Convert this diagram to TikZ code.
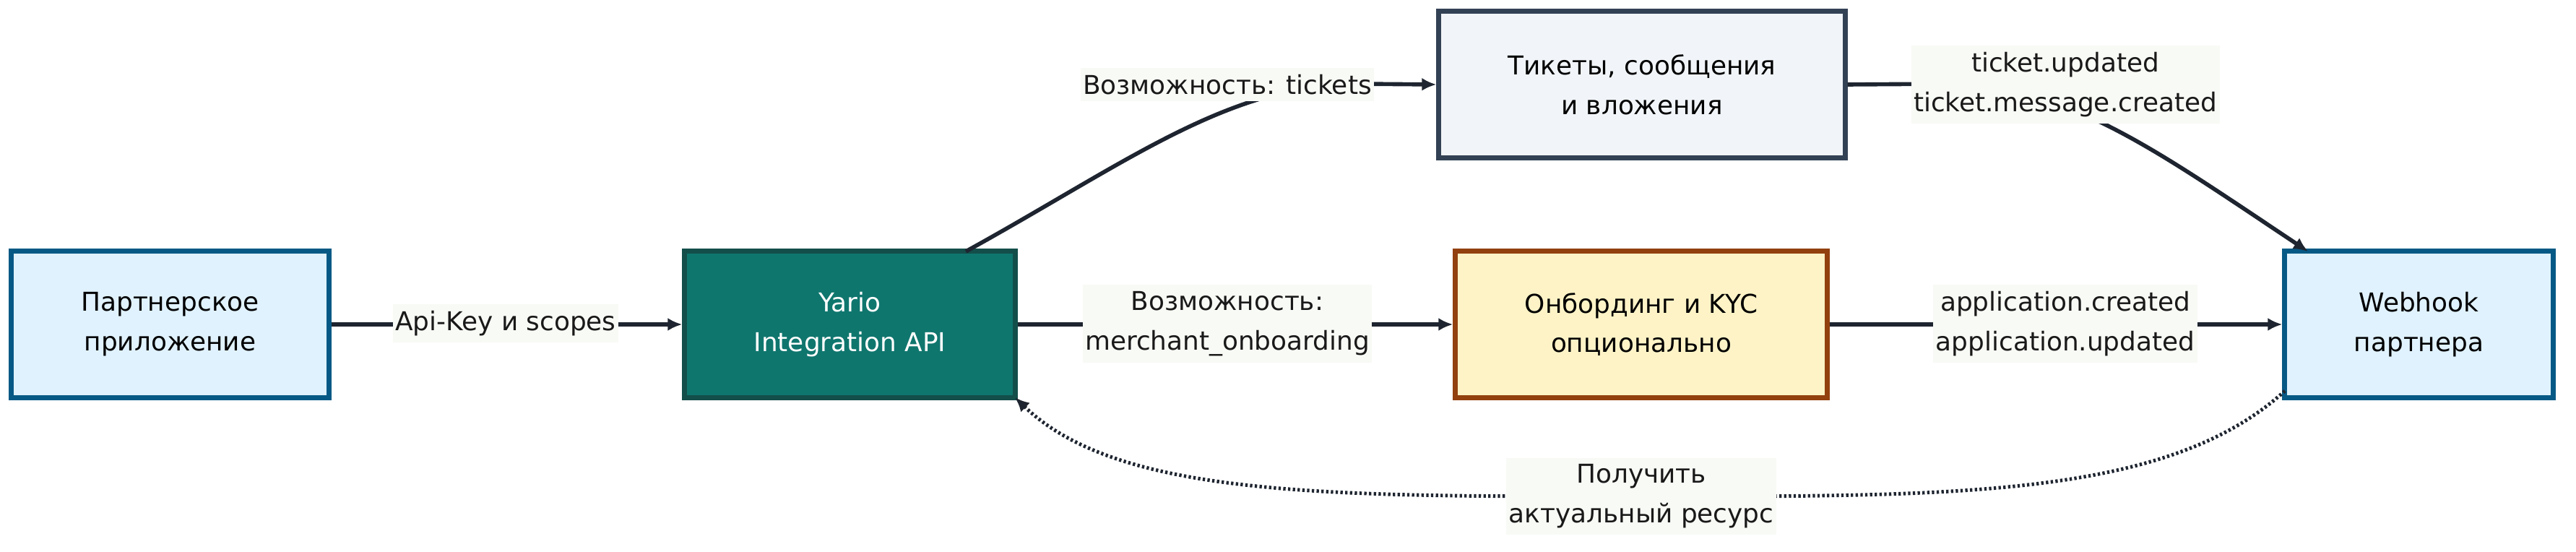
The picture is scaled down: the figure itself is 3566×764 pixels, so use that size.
\documentclass[tikz,border=0pt]{standalone}
\usepackage{fontspec}
\setmainfont{DejaVu Sans}
\usetikzlibrary{arrows.meta}
\definecolor{lineC}{HTML}{1E2530}
\definecolor{lblbg}{HTML}{F8FAF5}
\definecolor{skyF}{HTML}{E0F2FE}
\definecolor{skyD}{HTML}{075985}
\definecolor{tealF}{HTML}{0F766E}
\definecolor{tealD}{HTML}{134E4A}
\definecolor{slateF}{HTML}{F1F5F9}
\definecolor{slateD}{HTML}{334155}
\definecolor{amberF}{HTML}{FEF3C7}
\definecolor{amberD}{HTML}{92400E}
\tikzset{
  base/.style={draw, line width=2pt, rectangle, align=center, inner sep=0pt,
    minimum height=2.02cm, font=\fontsize{10.2}{15.6}\selectfont},
  partner/.style={base, fill=skyF, draw=skyD},
  api/.style={base, fill=tealF, draw=tealD, text=white},
  tick/.style={base, fill=slateF, draw=slateD},
  onb/.style={base, fill=amberF, draw=amberD},
  conn/.style={draw=lineC, line width=1.6pt, -{Latex[length=0.2cm,width=0.18cm]}},
  dotconn/.style={draw=lineC, line width=1.4pt, dash pattern=on 0.033cm off 0.033cm, -{Latex[length=0.2cm,width=0.18cm]}},
  lbl/.style={fill=lblbg, align=center, inner xsep=1pt, inner ysep=2.6pt, text=black!90,
    font=\fontsize{10.2}{15.6}\selectfont}
}
\begin{document}
\begin{tikzpicture}[x=0.01cm,y=-0.01cm]
\useasboundingbox (0,0) rectangle (3566,764);
\node[partner, minimum width=4.39cm] (p) at (235.5,449) {Партнерское\\приложение};
\node[api, minimum width=4.57cm] (y) at (1176.5,449) {Yario\\Integration API};
\node[tick, minimum width=5.62cm] (t) at (2273,117) {Тикеты, сообщения\\и вложения};
\node[onb, minimum width=5.14cm] (o) at (2272,449) {Онбординг и KYC\\опционально};
\node[partner, minimum width=3.71cm] (w) at (3348.5,449) {Webhook\\партнера};

\coordinate (yt) at (1337,348);
\coordinate (wt) at (3195,348);
\coordinate (wl) at (3163,541);
\coordinate (yc) at (1405,550);

\draw[conn] (p.east) -- (y.west);
\draw[conn] (yt) .. controls (1560,225) and (1700,116) .. (1880,116) -- (t.west);
\draw[conn] (y.east) -- (o.west);
\draw[conn] (t.east) -- (2691,116) .. controls (2860,116) and (2980,205) .. (wt);
\draw[conn] (o.east) -- (w.west);
\draw[dotconn] (wl) .. controls (3000,690) and (2700,687) .. (2272,687)
  .. controls (1850,687) and (1550,690) .. (yc);

\node[lbl] (l1) at (700,448) {Api-Key и scopes};
\node[lbl] (l2) at (1699,117) {Возможность: tickets};
\node[lbl] (l3) at (1699,448) {Возможность:\\merchant\_onboarding};
\node[lbl] (l4) at (2859,117) {ticket.updated\\ticket.message.created};
\node[lbl] (l5) at (2859,448) {application.created\\application.updated};
\node[lbl] (l6) at (2272,687) {Получить\\актуальный ресурс};
\end{tikzpicture}
\end{document}
